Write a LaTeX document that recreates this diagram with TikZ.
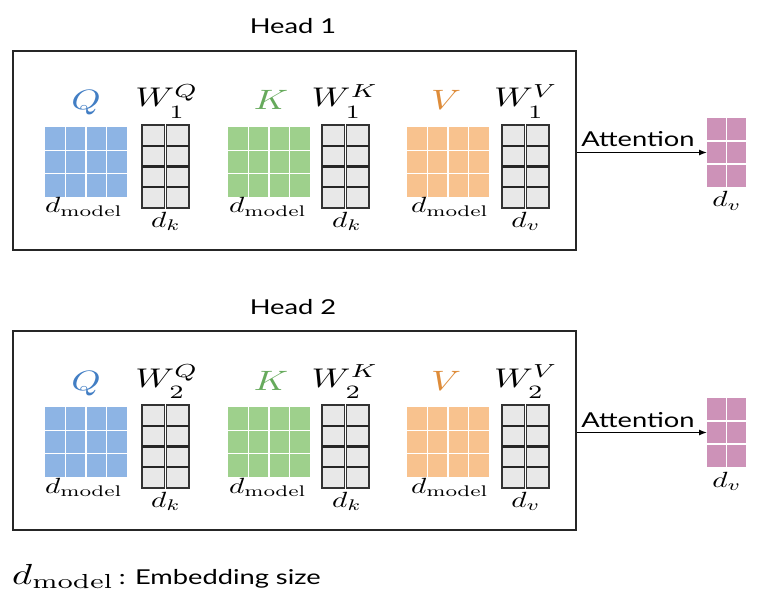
\documentclass[tikz,border=0pt]{standalone}
\usepackage{fontspec}
\usepackage{graphicx}
\usetikzlibrary{arrows.meta}
\newfontfamily\lato{Lato}
\definecolor{qcol}{RGB}{66,126,196}
\definecolor{kcol}{RGB}{102,170,92}
\definecolor{vcol}{RGB}{222,140,58}
\definecolor{qfill}{RGB}{141,180,228}
\definecolor{kfill}{RGB}{158,208,140}
\definecolor{vfill}{RGB}{248,194,142}
\definecolor{pinkc}{RGB}{205,146,184}
\newcommand\mth[2]{\scalebox{\fpeval{1.33*#1/10}}[\fpeval{#1/10}]{$#2$}}
\newcommand\snf[2]{\scalebox{1.33}[1]{\fontsize{#1}{#1}\selectfont\lato #2}}
\newcommand\lowsub[1]{\lower1.8pt\hbox{$\scriptstyle #1$}}
\tikzset{
 hbox/.style={draw=black!85, line width=1.8pt, inner sep=0, anchor=north west, minimum width=563, minimum height=199},
 lbl/.style={inner sep=0, anchor=base},
 gridnode/.style={inner sep=0, outer sep=0, anchor=north west, draw=none},
 gap/.style={white, line width=1.6pt},
 wcell/.style={draw=black!80, fill=black!9, line width=1.2pt},
 wsep/.style={black!85, line width=2.2pt},
 attarrow/.style={line width=1.2pt, -{Latex[length=8pt,width=6pt]}},
}
\newcommand\bigmat[4]{%
 \node[gridnode, fill=#4, minimum width=82, minimum height=70] (#1) at (#2,#3) {};
 \foreach \i in {1,2,3} \draw[gap] (#2+\i*20.5,#3) -- ++(0,70);
 \foreach \j in {1,2} \draw[gap] (#2,#3+\j*23.33) -- ++(82,0);
}
\newcommand\outmat[3]{%
 \node[gridnode, fill=pinkc, minimum width=39, minimum height=69] (#1) at (#2,#3) {};
 \draw[gap] (#2+19.5,#3) -- ++(0,69);
 \foreach \j in {1,2} \draw[gap] (#2,#3+\j*23) -- ++(39,0);
}
\newcommand\wmat[3]{%
 \node[gridnode, minimum width=47, minimum height=83] (#1) at (#2,#3) {};
 \foreach \c in {0,1} {
   \draw[wcell] (#2+\c*24.5,#3) rectangle ++(22.5,83);
   \foreach \r in {1,2,3} \draw[wsep] (#2+\c*24.5,#3+\r*20.75) -- ++(22.5,0);
 }
}
\newcommand\headblock[2]{%
 \node[lbl] (head#1) at (293,34+#2) {\snf{20.5}{Head #1}};
 \node[hbox] (box#1) at (12,50+#2) {};
 % Q
 \node[lbl, text=qcol] (ql#1) at (86,110+#2) {\mth{28}{Q}};
 \bigmat{qm#1}{45}{127+#2}{qfill}
 \node[lbl] (qd#1) at (84,213+#2) {\mth{22}{d_{\mathrm{model}}}};
 \node[lbl] (wql#1) at (167,107+#2) {\mth{27}{W^{Q}_{\lowsub{#1}}}};
 \wmat{wq#1}{142}{125+#2}
 \node[lbl] (wqd#1) at (166,227+#2) {\mth{22}{d_k}};
 % K
 \node[lbl, text=kcol] (kl#1) at (271,110+#2) {\mth{28}{K}};
 \bigmat{km#1}{228}{127+#2}{kfill}
 \node[lbl] (kd#1) at (268,213+#2) {\mth{22}{d_{\mathrm{model}}}};
 \node[lbl] (wkl#1) at (345,107+#2) {\mth{27}{W^{K}_{\lowsub{#1}}}};
 \wmat{wk#1}{322}{125+#2}
 \node[lbl] (wkd#1) at (347,227+#2) {\mth{22}{d_k}};
 % V
 \node[lbl, text=vcol] (vl#1) at (446,110+#2) {\mth{28}{V}};
 \bigmat{vm#1}{407}{127+#2}{vfill}
 \node[lbl] (vd#1) at (450,213+#2) {\mth{22}{d_{\mathrm{model}}}};
 \node[lbl] (wvl#1) at (526,107+#2) {\mth{27}{W^{V}_{\lowsub{#1}}}};
 \wmat{wv#1}{502}{125+#2}
 \node[lbl] (wvd#1) at (526,227+#2) {\mth{22}{d_v}};
 % output
 \outmat{out#1}{707}{118+#2}
 \node[lbl] (outd#1) at (727,207+#2) {\mth{22}{d_v}};
 \node[lbl] (att#1) at (638,147+#2) {\snf{20.5}{Attention}};
 \draw[attarrow] (out#1.west -| box#1.east) -- (out#1.west);
}
\begin{document}
\begin{tikzpicture}[x=1pt,y=-1pt]
\fill[white] (0,0) rectangle (768,604);
\useasboundingbox (0,0) rectangle (768,604);
\headblock{1}{0}
\headblock{2}{280}
\node[inner sep=0, anchor=base west] (legend) at (12,584) {\mth{29}{d_{\mathrm{model}}}\snf{20.5}{\,: Embedding size}};
\end{tikzpicture}
\end{document}
